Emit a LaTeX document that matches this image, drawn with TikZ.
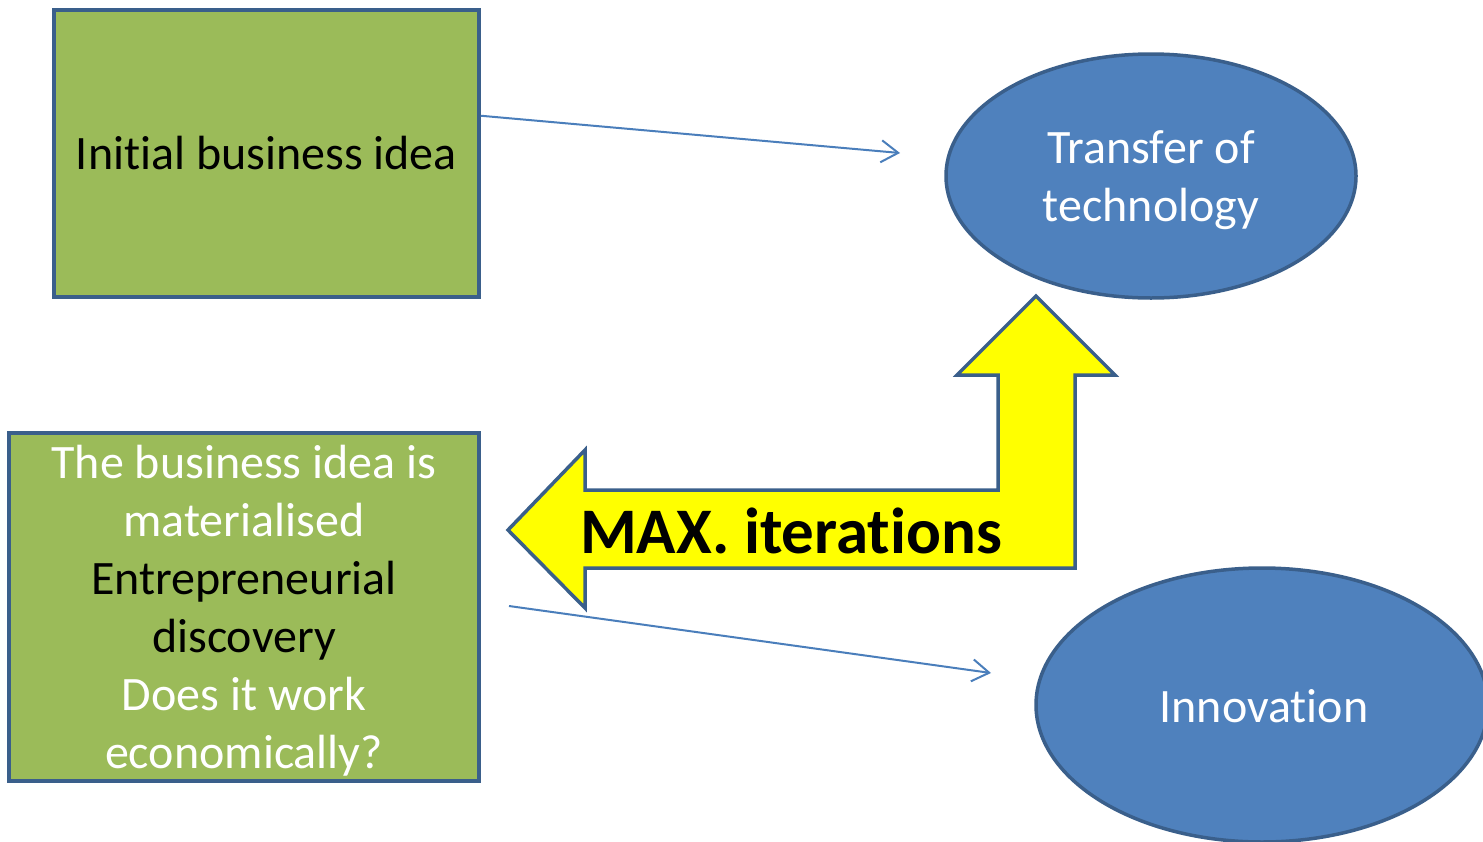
\documentclass[tikz,border=0pt]{standalone}
\usepackage{fontspec}
\setmainfont[Ligatures={NoCommon}]{Carlito}
\usetikzlibrary{arrows.meta,shapes.geometric,calc}
\definecolor{boxgreen}{HTML}{9BBB59}
\definecolor{rimblue}{HTML}{3A5F8B}
\definecolor{ovalblue}{HTML}{4F81BD}
\definecolor{linkblue}{HTML}{4A7EBB}
\definecolor{arrowyellow}{HTML}{FFFF00}
\tikzset{
  greenbox/.style={draw=rimblue, line width=1.75pt, fill=boxgreen, inner sep=0pt,
    align=center, font=\fontsize{24}{29}\selectfont},
  oval/.style={ellipse, draw=rimblue, line width=1.75pt, fill=ovalblue, inner sep=0pt,
    align=center, text=white, font=\fontsize{24}{29}\selectfont},
  link/.style={draw=linkblue, line width=1pt,
    -{Straight Barb[length=8.5pt,width=11pt]}},
  bigarrow/.style={draw=rimblue, line width=1.75pt, fill=arrowyellow, line join=miter}
}
\begin{document}
\begin{tikzpicture}[x=0.5pt,y=-0.5pt]
  \useasboundingbox (0,0) rectangle (1483,841);
  \clip (0,0) rectangle (1483,841);

  % boxes
  \node[greenbox, minimum width=212.5pt, minimum height=143.5pt] (init) at (266.5,153.5)
    {Initial business idea};
  \node[greenbox, minimum width=235pt, minimum height=174pt] (real) at (244,607) {};
  \node[align=center, font=\fontsize{24}{29}\selectfont] (realtext) at (244,611)
    {\textcolor{white}{The business idea is}\\
     \textcolor{white}{materialised}\\
     Entrepreneurial\\
     discovery\\
     \textcolor{white}{Does it work}\\
     \textcolor{white}{economically?}};

  % ovals
  \node[oval, minimum width=205pt, minimum height=122pt] (transfer) at (1151,176) {};
  \node[align=center, text=white, font=\fontsize{24}{29}\selectfont] (transfertext) at (1151,180)
    {Transfer of\\technology};
  \node[oval, minimum width=226pt, minimum height=137pt] (innov) at (1262,705) {};
  \node[text=white, font=\fontsize{24}{29}\selectfont] (innovtext) at (1264,706) {Innovation};

  % bent two-headed arrow
  \draw[bigarrow] (508,530) -- (585,450) -- (585,490) -- (998,490) -- (998,375)
    -- (957,375) -- (1036,296) -- (1115,375) -- (1075,375) -- (1075,568)
    -- (585,568) -- (585,608) -- cycle;
  \node[font=\fontsize{32.5}{38}\selectfont\bfseries] (iter) at (791,531) {MAX. iterations};

  % connectors
  \coordinate (s1) at ($(init.north east)!0.37!(init.south east)$);
  \coordinate (e1) at (900,153);
  \coordinate (s2) at (509,606);
  \coordinate (e2) at (991,673);
  \draw[link] (s1) -- (e1);
  \draw[link] (s2) -- (e2);
\end{tikzpicture}
\end{document}
